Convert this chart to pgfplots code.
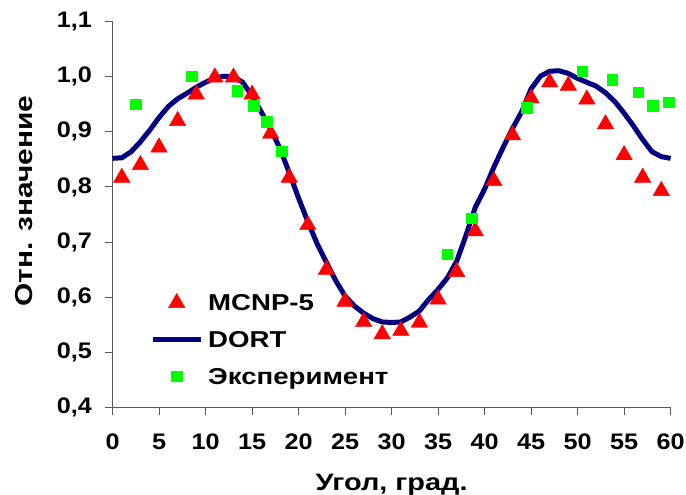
\documentclass[border=0pt]{standalone}
\usepackage{fontspec}
\setmainfont{Liberation Sans}
\newfontfamily\tickf{Liberation Sans}[FakeStretch=1.12]
\newfontfamily\titf{Liberation Sans}[FakeStretch=1.22]
\newfontfamily\legf{Liberation Sans}[FakeStretch=1.2]
\usepackage{pgfplots}
\pgfplotsset{compat=1.18}

\definecolor{mcnp}{RGB}{255,0,0}
\definecolor{dort}{RGB}{0,0,128}
\definecolor{expt}{RGB}{0,255,0}

% MCNP-5
\pgfplotstableread{
x y
1 0.817
3 0.840
5 0.872
7 0.920
9 0.968
11 0.999
13 0.999
15 0.968
17 0.897
19 0.817
21 0.731
23 0.650
25 0.592
27 0.555
29 0.533
31 0.539
33 0.554
35 0.596
37 0.646
39 0.720
41 0.811
43 0.894
45 0.961
47 0.990
49 0.984
51 0.959
53 0.914
55 0.858
57 0.817
59 0.793
}\mcnptab

% DORT
\pgfplotstableread{
x y
0 0.852
1 0.853
2 0.864
3 0.882
4 0.903
5 0.926
6 0.946
7 0.960
8 0.970
9 0.981
10 0.990
11 0.998
12 1.001
13 1.000
14 0.990
15 0.965
16 0.936
17 0.905
18 0.870
19 0.826
20 0.780
21 0.737
22 0.697
23 0.663
24 0.630
25 0.602
26 0.584
27 0.571
28 0.561
29 0.555
30 0.554
31 0.555
32 0.564
33 0.575
34 0.596
35 0.614
36 0.635
37 0.665
38 0.712
39 0.763
40 0.796
41 0.836
42 0.872
43 0.906
44 0.937
45 0.978
46 1.001
47 1.010
48 1.011
49 1.006
50 0.997
51 0.990
52 0.983
53 0.971
54 0.955
55 0.934
56 0.911
57 0.886
58 0.864
59 0.855
60 0.852
}\dorttab

% Эксперимент
\pgfplotstableread{
x y
2.5 0.950
8.5 1.001
13.4 0.975
15.2 0.947
16.6 0.918
18.2 0.865
36.0 0.678
38.6 0.743
44.5 0.944
50.5 1.010
53.7 0.995
56.5 0.972
58.1 0.947
59.8 0.954
}\expttab

\begin{document}
\begin{tikzpicture}
\begin{axis}[
  name=ax,
  scale only axis,
  width=558pt, height=385.6pt,
  xmin=0, xmax=60, ymin=0.4, ymax=1.1,
  axis x line=bottom, axis y line=left,
  axis line style={-, black!65, line width=1pt},
  tick style={black!65, line width=1pt},
  major tick length=8pt, tick align=outside,
  xtick={0,5,10,15,20,25,30,35,40,45,50,55,60},
  xticklabels={0,5,10,15,20,25,30,35,40,45,50,55,60},
  ytick={0.4,0.5,0.6,0.7,0.8,0.9,1.0,1.1},
  yticklabels={{0,4},{0,5},{0,6},{0,7},{0,8},{0,9},{1,0},{1,1}},
  xticklabel style={font=\tickf\bfseries\fontsize{22.5}{22.5}\selectfont, anchor=north, inner sep=0pt, yshift=-18pt},
  yticklabel style={font=\tickf\bfseries\fontsize{22.5}{22.5}\selectfont, anchor=east, inner sep=0pt, xshift=-12.5pt},
  xlabel={Угол, град.},
  ylabel={Отн. значение},
  xlabel style={font=\titf\bfseries\fontsize{23.7}{23.7}\selectfont, at={(axis description cs:0.5,0)}, anchor=base, yshift=-82.7pt, inner sep=0pt},
  ylabel style={font=\titf\bfseries\fontsize{24.5}{24.5}\selectfont, at={([xshift=-80pt]axis description cs:0,0.535)}, anchor=base, inner sep=0pt},
  legend image code/.code={\draw[mark repeat=2,mark phase=2,#1] plot coordinates {(0pt,0pt) (24pt,0pt) (48pt,0pt)};},
  legend style={at={(0.0672,0.296)}, anchor=north west, draw=none, fill=none, inner sep=0pt,
    font=\legf\bfseries\fontsize{23}{23}\selectfont, row sep=20.7pt, column sep=5pt,
    nodes={inner xsep=0pt, inner ysep=0pt, text height=16pt, text depth=0pt}},
  legend cell align=left,
  clip=false,
]
\addplot[only marks, mark=triangle*, mark size=9.5pt, color=mcnp] table {\mcnptab};
\addplot[sharp plot, no marks, color=dort, line width=5pt, line join=round] table {\dorttab};
\addplot[only marks, mark=square*, mark size=5.3pt, color=expt] table {\expttab};
\legend{MCNP-5, DORT, Эксперимент}
\end{axis}
\pgfresetboundingbox
\path ([xshift=-112.5pt,yshift=-86.7pt]ax.south west) rectangle ([xshift=15.4pt,yshift=21.7pt]ax.north east);
\end{tikzpicture}
\end{document}
